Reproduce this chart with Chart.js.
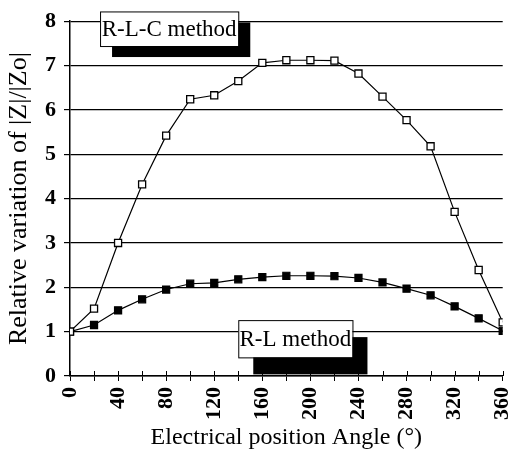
<!DOCTYPE html>
<html>
<head>
<meta charset="utf-8">
<script src="https://cdn.jsdelivr.net/npm/chart.js@4/dist/chart.umd.min.js"></script>
<style>
html, body { margin: 0; padding: 0; background: #fff; }
</style>
</head>
<body>
<canvas id="myChart" width="509" height="464"></canvas>
<script>
// angle in degrees
var angles = [0, 20, 40, 60, 80, 100, 120, 140, 160, 180, 200, 220, 240, 260, 280, 300, 320, 340, 360];
var rlcValues = [1.0, 1.52, 3.0, 4.32, 5.42, 6.24, 6.33, 6.65, 7.06, 7.12, 7.12, 7.11, 6.82, 6.3, 5.77, 5.18, 3.7, 2.39, 1.21];
var rlValues = [1.0, 1.15, 1.48, 1.73, 1.95, 2.08, 2.1, 2.18, 2.23, 2.26, 2.26, 2.25, 2.21, 2.11, 1.97, 1.82, 1.57, 1.3, 1.02];
var seriesNames = ['R-L-C method', 'R-L method'];
var serif = 'Liberation Serif';

function toPoints(vals) {
    return angles.map(function (a, i) { return { x: a, y: vals[i] }; });
}

// label boxes, placed in data units: [x0, x1, yTop, yBottom], shadow offset in px
var labelBoxes = [
    { text: seriesNames[0], box: [25, 140, 8.22, 7.44], shadow: [12, 11] },
    { text: seriesNames[1], box: [140, 235, 1.26, 0.42], shadow: [15, 17] }
];

var boxPlugin = {
    id: 'boxes',
    beforeDatasetsDraw: function (chart) {
        // x ticks cross the axis, draw the inside half
        var ctx = chart.ctx, xs = chart.scales.x, ys = chart.scales.y;
        ctx.save();
        ctx.strokeStyle = '#000';
        ctx.lineWidth = 1;
        angles.forEach(function (a) {
            var px = Math.round(xs.getPixelForValue(a)) + 0.5;
            ctx.beginPath();
            ctx.moveTo(px, ys.bottom);
            ctx.lineTo(px, ys.bottom - 5);
            ctx.stroke();
        });
        ctx.restore();
    },
    afterDatasetsDraw: function (chart) {
        var ctx = chart.ctx, xs = chart.scales.x, ys = chart.scales.y;
        ctx.save();
        labelBoxes.forEach(function (lb) {
            var x0 = xs.getPixelForValue(lb.box[0]);
            var x1 = xs.getPixelForValue(lb.box[1]);
            var y0 = ys.getPixelForValue(lb.box[2]);
            var y1 = ys.getPixelForValue(lb.box[3]);
            ctx.fillStyle = '#000';
            ctx.fillRect(x0 + lb.shadow[0], y0 + lb.shadow[1], x1 - x0, y1 - y0);
            ctx.fillStyle = '#fff';
            ctx.fillRect(x0, y0, x1 - x0, y1 - y0);
            ctx.strokeStyle = '#000';
            ctx.lineWidth = 1;
            ctx.strokeRect(x0 + 0.5, y0 + 0.5, x1 - x0, y1 - y0);
            ctx.fillStyle = '#000';
            ctx.font = '23px "' + serif + '"';
            ctx.textAlign = 'center';
            ctx.textBaseline = 'middle';
            ctx.fillText(lb.text, (x0 + x1) / 2, (y0 + y1) / 2 + 1);
        });
        ctx.restore();
    }
};

var config = {
    type: 'line',
    data: {
        datasets: [{
            label: seriesNames[0],
            data: toPoints(rlcValues),
            borderColor: '#000',
            borderWidth: 1.2,
            pointStyle: 'rect',
            pointRadius: 5,
            pointBackgroundColor: '#fff',
            pointBorderColor: '#000',
            pointBorderWidth: 1.3,
            tension: 0
        }, {
            label: seriesNames[1],
            data: toPoints(rlValues),
            borderColor: '#000',
            borderWidth: 1.2,
            pointStyle: 'rect',
            pointRadius: 5,
            pointBackgroundColor: '#000',
            pointBorderColor: '#000',
            tension: 0
        }]
    },
    options: {
        responsive: false,
        animation: false,
        layout: { padding: { left: 0, right: 6, top: 20, bottom: 12 } },
        plugins: {
            legend: { display: false },
            tooltip: { enabled: false }
        },
        scales: {
            x: {
                type: 'linear',
                min: 0,
                max: 360,
                ticks: {
                    stepSize: 20,
                    autoSkip: false,
                    minRotation: 90,
                    maxRotation: 90,
                    padding: 6,
                    color: '#000',
                    font: { family: serif, size: 22, weight: 'bold' },
                    callback: function (v) { return v % 40 === 0 ? v : ''; }
                },
                grid: { drawOnChartArea: false, tickLength: 5, color: '#000' },
                border: { color: '#000', width: 1.5 },
                title: {
                    display: true,
                    text: 'Electrical position Angle (°)',
                    color: '#000',
                    padding: { top: 2, bottom: 0 },
                    font: { family: serif, size: 24 }
                },
                afterFit: function (s) {
                    s.height = 76;
                    s.paddingLeft = 0;
                    s.paddingRight = 0;
                }
            },
            y: {
                min: 0,
                max: 8,
                ticks: {
                    stepSize: 1,
                    padding: 8,
                    color: '#000',
                    font: { family: serif, size: 22, weight: 'bold' }
                },
                grid: { color: '#000', lineWidth: 1.2, tickLength: 6 },
                border: { color: '#000', width: 1.5 },
                title: {
                    display: true,
                    text: 'Relative variation of |Z|/|Zo|',
                    color: '#000',
                    padding: { top: 4, bottom: 0 },
                    font: { family: serif, size: 26 }
                },
                afterFit: function (s) { s.width = 70; }
            }
        }
    },
    plugins: [boxPlugin]
};

var ctx = document.getElementById('myChart').getContext('2d');
var myChart = new Chart(ctx, config);
</script>
</body>
</html>
